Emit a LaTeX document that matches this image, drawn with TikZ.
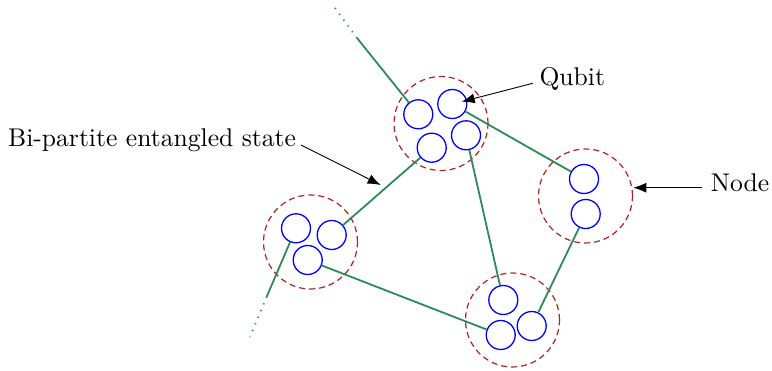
\documentclass[tikz,border=0pt]{standalone}
\usepackage{fontspec}
\setmainfont{lmroman10-regular.otf}
\usetikzlibrary{arrows.meta}
\definecolor{lnkgreen}{RGB}{46,139,87}
\definecolor{nodered}{RGB}{178,34,34}
\begin{document}
\begin{tikzpicture}[x=1pt,y=-1pt,
  qubit/.style={circle,draw=blue,line width=1.3pt,minimum size=29pt,inner sep=0pt},
  nodering/.style={circle,draw=nodered,line width=1.2pt,dash pattern=on 6pt off 4pt,minimum size=94pt,inner sep=0pt},
  link/.style={draw=lnkgreen,line width=1.8pt},
  dotlink/.style={draw=lnkgreen,line width=1.8pt,dash pattern=on 1.2pt off 6pt},
  lbl/.style={inner sep=0pt,font=\fontsize{25.6}{30}\selectfont},
  pointer/.style={draw=black,line width=0.9pt,-{Latex[length=13pt,width=10pt]}}]
\useasboundingbox (0,0) rectangle (772,370);
% node rings
\node[nodering] (nt) at (441,123.5) {};
\node[nodering] (nl) at (310.5,242) {};
\node[nodering] (nb) at (512.5,320) {};
\node[nodering] (nr) at (585.5,196) {};
% qubits
\node[qubit] (t1) at (418.3,114.3) {};
\node[qubit] (t2) at (452.3,104) {};
\node[qubit] (t3) at (431.7,147.7) {};
\node[qubit] (t4) at (466,135.3) {};
\node[qubit] (l1) at (296,228.3) {};
\node[qubit] (l2) at (331.7,235) {};
\node[qubit] (l3) at (307.7,260) {};
\node[qubit] (b1) at (503.3,300) {};
\node[qubit] (b2) at (500.7,335) {};
\node[qubit] (b3) at (531.7,326) {};
\node[qubit] (r1) at (584,179) {};
\node[qubit] (r2) at (585.7,214) {};
% free ends
\coordinate (tu) at (357,38);
\coordinate (tud) at (335,8);
\coordinate (ld) at (266.7,296.7);
\coordinate (ldd) at (250,337);
% links
\draw[link] (t1) -- (tu);
\draw[dotlink] (tu) -- (tud);
\draw[link] (l1) -- (ld);
\draw[dotlink] (ld) -- (ldd);
\draw[link] (t3) -- (l2);
\draw[link] (t4) -- (b1);
\draw[link] (t2) -- (r1);
\draw[link] (r2) -- (b3);
\draw[link] (l3) -- (b2);
% labels
\node[lbl,anchor=base west] (qlab) at (539.3,85) {Qubit};
\node[lbl,anchor=base west] (nlab) at (710.7,191) {Node};
\node[lbl,anchor=base west] (elab) at (8,146) {Bi-partite entangled state};
\coordinate (qs) at (532.7,83.3);
\coordinate (qt) at (461.7,101.7);
\coordinate (ns) at (701.7,187.7);
\coordinate (nt2) at (633.3,187.7);
\coordinate (es) at (301,145);
\coordinate (et) at (380.7,185);
\draw[pointer] (qs) -- (qt);
\draw[pointer] (ns) -- (nt2);
\draw[pointer] (es) -- (et);
\end{tikzpicture}
\end{document}
